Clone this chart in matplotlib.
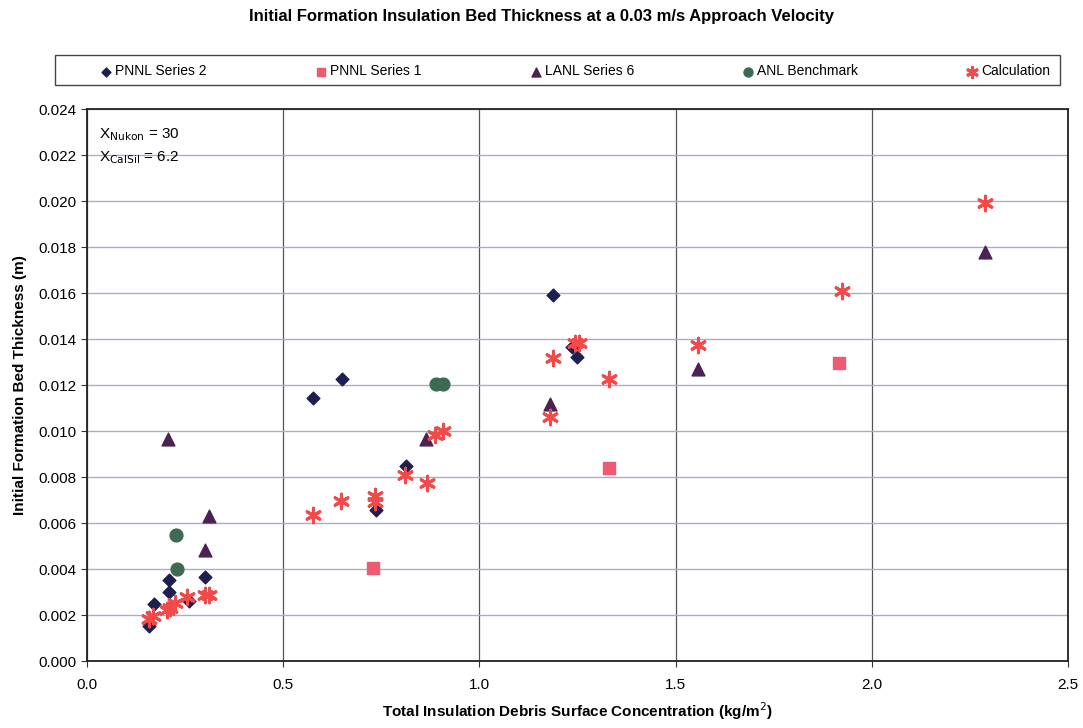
import matplotlib.pyplot as plt
from matplotlib.patches import Rectangle

plt.rcParams['font.family'] = ['Liberation Sans', 'DejaVu Sans']

# Data (x in kg/m^2, y in m)
pnnl2_x = [0.157, 0.170, 0.208, 0.208, 0.259, 0.302, 0.577, 0.649, 0.736, 0.813, 1.188, 1.235, 1.248]
pnnl2_y = [0.00152, 0.00249, 0.00299, 0.00354, 0.00260, 0.00366, 0.01142, 0.01225, 0.00656, 0.00850, 0.01594, 0.01367, 0.01322]

pnnl1_x = [0.729, 1.330, 1.917]
pnnl1_y = [0.00405, 0.00840, 0.01297]

lanl6_x = [0.207, 0.301, 0.312, 0.863, 1.181, 1.557, 2.288]
lanl6_y = [0.00965, 0.00482, 0.00632, 0.00966, 0.01120, 0.01272, 0.01780]

anl_x = [0.228, 0.229, 0.889, 0.908]
anl_y = [0.00548, 0.00402, 0.01203, 0.01203]

calc_x = [0.157, 0.168, 0.204, 0.212, 0.225, 0.254, 0.301, 0.312,
          0.577, 0.647, 0.734, 0.734, 0.811, 0.866, 0.888, 0.907,
          1.181, 1.188, 1.243, 1.253, 1.330, 1.557, 1.925, 2.288]
calc_y = [0.00181, 0.00195, 0.00222, 0.00232, 0.00254, 0.00280, 0.00285, 0.00288,
          0.00635, 0.00697, 0.00717, 0.00693, 0.00809, 0.00773, 0.00983, 0.01001,
          0.01062, 0.01316, 0.01384, 0.01384, 0.01225, 0.01374, 0.01610, 0.01990]

fig = plt.figure(figsize=(10.83, 7.28), dpi=100)
ax = fig.add_axes([0.0803, 0.092, 0.906, 0.758])

ax.scatter(pnnl2_x, pnnl2_y, marker='D', s=42, color='#1c1f4f', label='PNNL Series 2', zorder=3)
ax.scatter(pnnl1_x, pnnl1_y, marker='s', s=80, color='#ee5a72', label='PNNL Series 1', zorder=3)
ax.scatter(lanl6_x, lanl6_y, marker='^', s=85, color='#4b2352', label='LANL Series 6', zorder=3)
ax.scatter(anl_x, anl_y, marker='o', s=85, color='#3f6a52', label='ANL Benchmark', zorder=3)
ax.scatter(calc_x, calc_y, marker=(6, 2, 0), s=110, color='#f04a4a', linewidths=2.2,
           label='Calculation', zorder=4)

ax.set_xlim(0, 2.5)
ax.set_ylim(0, 0.024)
ax.set_xticks([0.0, 0.5, 1.0, 1.5, 2.0, 2.5])
ax.set_yticks([i * 0.002 for i in range(13)])
ax.xaxis.set_major_formatter(plt.FormatStrFormatter('%.1f'))
ax.yaxis.set_major_formatter(plt.FormatStrFormatter('%.3f'))
ax.tick_params(labelsize=11, length=4, color='#333333')
ax.tick_params(axis='x', pad=8)

ax.yaxis.grid(True, color='#ababcf', linewidth=1.0)
ax.xaxis.grid(True, color='#555555', linewidth=0.9)
ax.set_axisbelow(True)
for sp in ax.spines.values():
    sp.set_color('#222222')
    sp.set_linewidth(1.3)

ax.set_xlabel('Total Insulation Debris Surface Concentration (kg/m$^2$)', fontsize=11,
              fontweight='bold', labelpad=6)
ax.set_ylabel('Initial Formation Bed Thickness (m)', fontsize=11, fontweight='bold', labelpad=8)

ax.text(0.03, 0.0229, r'X$_{\mathrm{Nukon}}$ = 30', fontsize=11, va='center')
ax.text(0.03, 0.0219, r'X$_{\mathrm{CalSil}}$ = 6.2', fontsize=11, va='center')

fig.suptitle('Initial Formation Insulation Bed Thickness at a 0.03 m/s Approach Velocity',
             fontsize=12, fontweight='bold', y=0.988)

# legend frame drawn separately so the entries can sit inset like the original
fig.patches.append(Rectangle((0.0508, 0.883), 0.928, 0.041, transform=fig.transFigure,
                             fill=False, edgecolor='#444444', linewidth=1.0))
leg = fig.legend(loc='lower left', ncol=5, mode='expand',
                 bbox_to_anchor=(0.085, 0.885, 0.89, 0.037),
                 fontsize=10, frameon=False, handletextpad=0.05, handlelength=1.2,
                 borderaxespad=0, markerscale=0.7)

fig.savefig('out.png', dpi=100)
